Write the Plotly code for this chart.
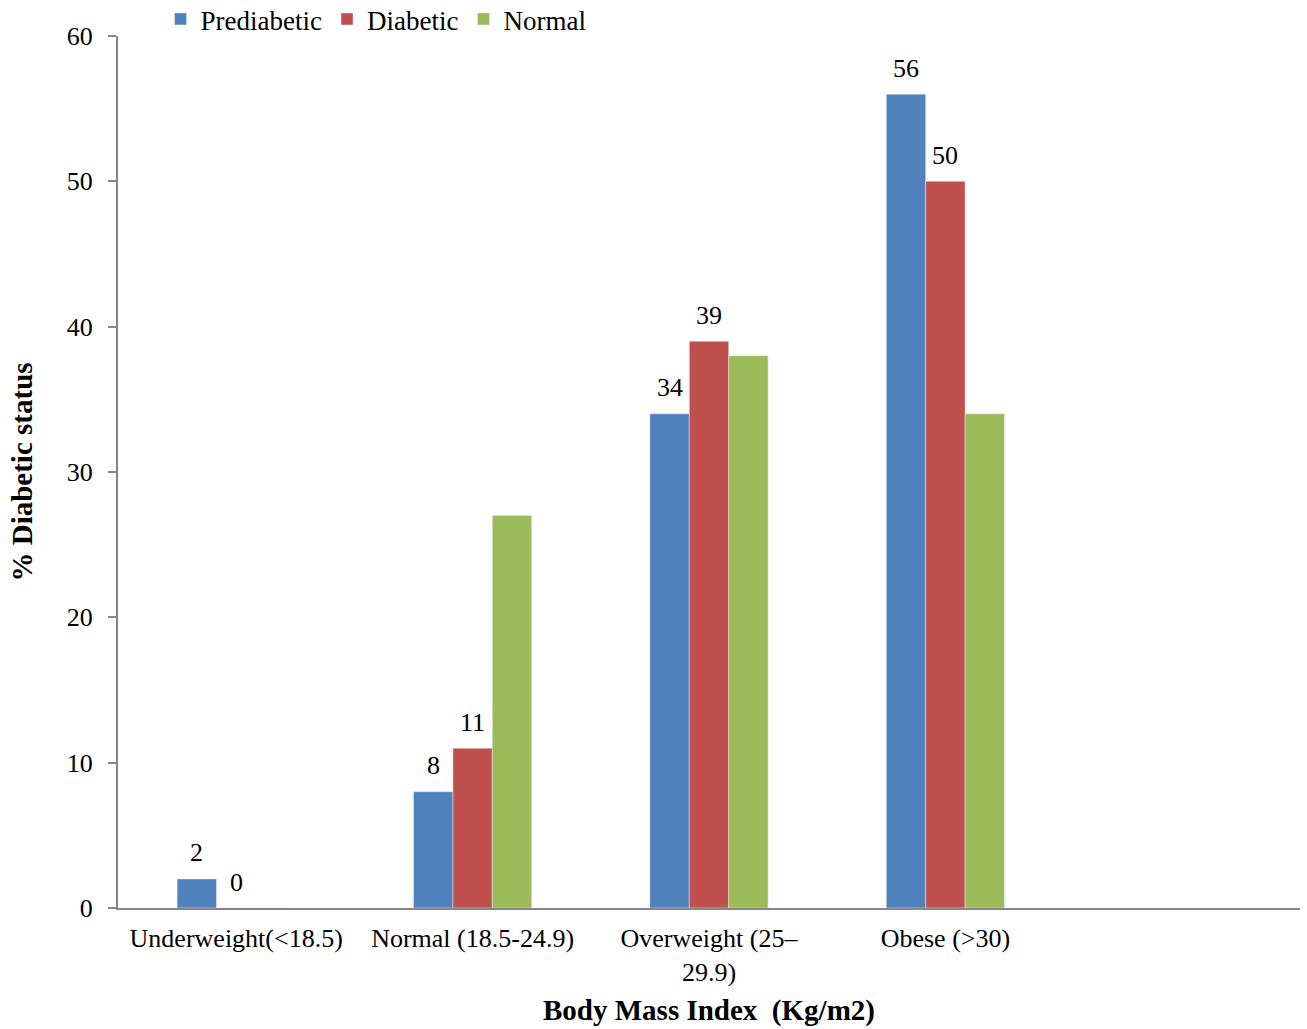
import plotly.graph_objects as go

# BMI categories and percentage of each diabetic status group
categories = ["Underweight(<18.5)", "Normal (18.5-24.9)", "Overweight (25–<br>29.9)", "Obese (>30)"]
prediabetic = [2, 8, 34, 56]
diabetic = [0, 11, 39, 50]
normal = [0, 27, 38, 34]

y_ticks = [0, 10, 20, 30, 40, 50, 60]

FONT = "Liberation Serif"
BAR_PX = 1182 / 5 * 0.5 / 3  # width of one bar in pixels inside a group

fig = go.Figure()
fig.add_trace(go.Bar(name="Prediabetic", x=categories, y=prediabetic,
                     marker=dict(color="#4F81BD")))
fig.add_trace(go.Bar(name="Diabetic", x=categories, y=diabetic,
                     marker=dict(color="#C0504D")))
fig.add_trace(go.Bar(name="Normal", x=categories, y=normal,
                     marker=dict(color="#9BBB59")))

# value labels above the Prediabetic and Diabetic bars
for values, shift in ((prediabetic, -BAR_PX), (diabetic, 0)):
    for cat, v in zip(categories, values):
        fig.add_annotation(x=cat, y=v, text=str(v), showarrow=False,
                           xshift=shift, yshift=26, yanchor="middle",
                           font=dict(family=FONT, size=26, color="black"))

fig.update_layout(
    width=1307, height=1029,
    margin=dict(l=118, r=7, t=36, b=121, autoexpand=False),
    paper_bgcolor="white", plot_bgcolor="white",
    font=dict(family=FONT, size=26, color="black"),
    barmode="group", bargap=0.5, bargroupgap=0,
    showlegend=True,
    legend=dict(orientation="h", x=0.036, y=1.019, xanchor="left", yanchor="middle",
                font=dict(family=FONT, size=27, color="black"),
                itemwidth=30, tracegroupgap=0),
    xaxis=dict(
        type="category", range=[-0.5, 4.5],
        showline=True, linecolor="#868686", linewidth=2,
        ticks="", showgrid=False, ticklabelstandoff=6,
        tickfont=dict(family=FONT, size=26, color="black"),
        title=dict(text="<b>Body Mass Index  (Kg/m2)</b>",
                   font=dict(family=FONT, size=29, color="black"), standoff=14),
    ),
    yaxis=dict(
        range=[0, 60], tickvals=y_ticks,
        showline=True, linecolor="#868686", linewidth=2,
        ticks="outside", ticklen=8, tickcolor="#868686", tickwidth=1.5,
        showgrid=False, zeroline=False, ticklabelstandoff=10,
        tickfont=dict(family=FONT, size=26, color="black"),
        title=dict(text="<b>% Diabetic status</b>",
                   font=dict(family=FONT, size=29, color="black"), standoff=26),
    ),
)

fig.write_html("out.html")
